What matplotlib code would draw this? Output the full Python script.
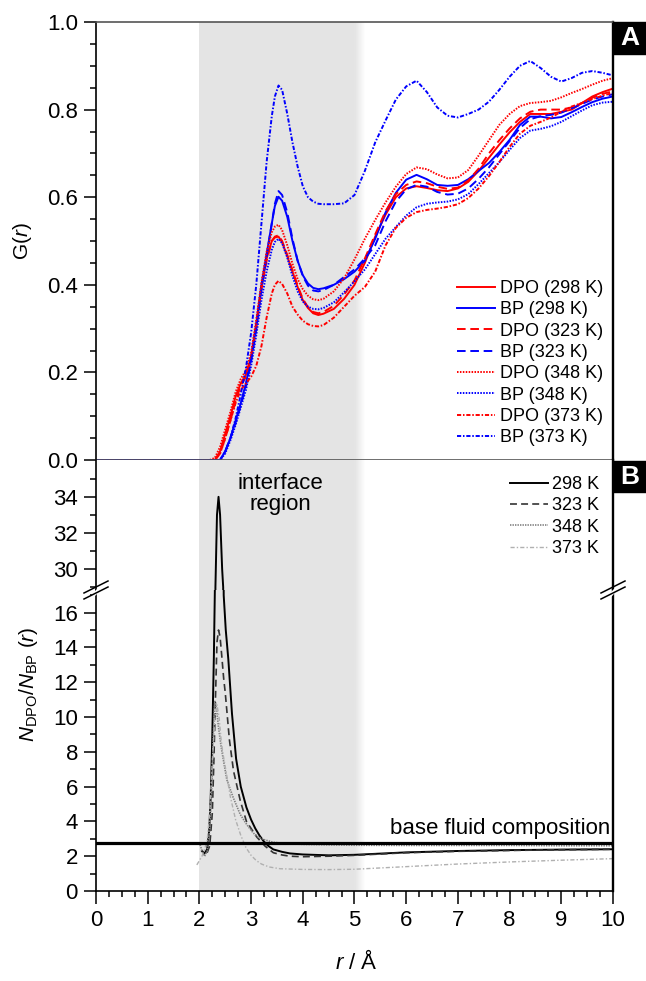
import matplotlib
matplotlib.use('Agg')
import matplotlib.pyplot as plt
from matplotlib.ticker import MultipleLocator, FixedLocator, FormatStrFormatter
from matplotlib.lines import Line2D
from matplotlib.patches import Rectangle, Polygon

plt.rcParams['font.family'] = ['Liberation Sans', 'DejaVu Sans']
plt.rcParams['mathtext.fontset'] = 'custom'
plt.rcParams['mathtext.rm'] = 'Liberation Sans'
plt.rcParams['mathtext.it'] = 'Liberation Sans:italic'
plt.rcParams['mathtext.bf'] = 'Liberation Sans:bold'
plt.rcParams['lines.scale_dashes'] = False

# ---------------- painel A: G(r) ----------------
r_top = [0.0, 2.2, 2.3, 2.4, 2.5, 2.6, 2.7, 2.8, 2.9, 3.0,
         3.1, 3.2, 3.3, 3.4, 3.46, 3.53, 3.6, 3.7, 3.8, 3.9,
         4.0, 4.1, 4.2, 4.3, 4.4, 4.6, 4.8, 5.0, 5.2, 5.4,
         5.6, 5.8, 6.0, 6.2, 6.4, 6.6, 6.8, 7.0, 7.2, 7.4,
         7.6, 7.8, 8.0, 8.2, 8.4, 8.6, 8.8, 9.0, 9.2, 9.4,
         9.6, 9.8, 10.0]

dpo_298 = [0, 0, 0.0, 0.02, 0.06, 0.10, 0.145, 0.175, 0.195, 0.235,
           0.31, 0.395, 0.46, 0.50, 0.508, 0.51, 0.497, 0.465, 0.43, 0.395,
           0.365, 0.347, 0.335, 0.331, 0.334, 0.345, 0.368, 0.40, 0.45, 0.51,
           0.56, 0.60, 0.62, 0.625, 0.621, 0.616, 0.614, 0.62, 0.635, 0.66,
           0.69, 0.72, 0.748, 0.772, 0.79, 0.79, 0.79, 0.795, 0.80, 0.815,
           0.83, 0.84, 0.848]
bp_298 = [0, 0, 0, 0.0, 0.02, 0.05, 0.09, 0.13, 0.175, 0.235,
          0.31, 0.40, 0.47, 0.54, 0.58, 0.601, 0.592, 0.555, 0.50, 0.455,
          0.422, 0.403, 0.393, 0.39, 0.392, 0.40, 0.413, 0.43, 0.455, 0.505,
          0.565, 0.61, 0.64, 0.651, 0.641, 0.628, 0.626, 0.628, 0.641, 0.66,
          0.678, 0.703, 0.731, 0.765, 0.784, 0.784, 0.78, 0.783, 0.794, 0.806,
          0.817, 0.825, 0.83]
dpo_323 = [0, 0, 0.0, 0.015, 0.05, 0.09, 0.135, 0.17, 0.19, 0.23,
           0.30, 0.39, 0.455, 0.50, 0.51, 0.513, 0.50, 0.468, 0.433, 0.398,
           0.368, 0.349, 0.338, 0.335, 0.338, 0.352, 0.378, 0.41, 0.46, 0.515,
           0.568, 0.607, 0.628, 0.636, 0.632, 0.624, 0.619, 0.622, 0.638, 0.665,
           0.70, 0.73, 0.757, 0.78, 0.795, 0.80, 0.80, 0.80, 0.805, 0.815,
           0.827, 0.836, 0.842]
bp_323 = [0, 0, 0, 0.0, 0.02, 0.05, 0.085, 0.125, 0.17, 0.225,
          0.30, 0.39, 0.465, 0.54, 0.585, 0.614, 0.605, 0.565, 0.505, 0.455,
          0.42, 0.398, 0.387, 0.385, 0.388, 0.40, 0.418, 0.435, 0.46, 0.49,
          0.545, 0.59, 0.618, 0.628, 0.624, 0.612, 0.606, 0.608, 0.62, 0.642,
          0.668, 0.698, 0.728, 0.758, 0.778, 0.785, 0.788, 0.793, 0.803, 0.813,
          0.823, 0.83, 0.835]
dpo_348 = [0, 0, 0.005, 0.03, 0.07, 0.11, 0.155, 0.185, 0.205, 0.245,
           0.32, 0.405, 0.475, 0.52, 0.533, 0.537, 0.525, 0.49, 0.448, 0.413,
           0.39, 0.375, 0.367, 0.365, 0.368, 0.385, 0.415, 0.458, 0.505, 0.548,
           0.588, 0.624, 0.653, 0.668, 0.664, 0.652, 0.643, 0.645, 0.662, 0.695,
           0.73, 0.765, 0.79, 0.808, 0.815, 0.817, 0.82, 0.828, 0.838, 0.847,
           0.857, 0.866, 0.872]
bp_348 = [0, 0, 0, 0.0, 0.015, 0.045, 0.08, 0.12, 0.16, 0.215,
          0.285, 0.365, 0.43, 0.48, 0.498, 0.505, 0.495, 0.462, 0.42, 0.385,
          0.362, 0.35, 0.345, 0.344, 0.347, 0.36, 0.383, 0.408, 0.435, 0.47,
          0.505, 0.532, 0.558, 0.577, 0.585, 0.588, 0.59, 0.595, 0.607, 0.63,
          0.655, 0.68, 0.708, 0.735, 0.752, 0.756, 0.762, 0.772, 0.785, 0.798,
          0.81, 0.816, 0.818]
dpo_373 = [0, 0, 0.0, 0.015, 0.05, 0.09, 0.13, 0.16, 0.175, 0.19,
           0.215, 0.26, 0.325, 0.38, 0.40, 0.409, 0.402, 0.38, 0.35, 0.332,
           0.318, 0.31, 0.306, 0.305, 0.308, 0.325, 0.35, 0.375, 0.395, 0.43,
           0.49, 0.53, 0.553, 0.566, 0.571, 0.574, 0.578, 0.584, 0.598, 0.62,
           0.648, 0.68, 0.715, 0.745, 0.763, 0.772, 0.782, 0.795, 0.807, 0.815,
           0.824, 0.832, 0.838]
bp_373 = [0, 0, 0, 0.0, 0.02, 0.05, 0.095, 0.15, 0.21, 0.29,
          0.40, 0.54, 0.68, 0.785, 0.83, 0.855, 0.845, 0.79, 0.725, 0.67,
          0.625, 0.60, 0.59, 0.585, 0.584, 0.584, 0.586, 0.605, 0.66, 0.725,
          0.775, 0.823, 0.853, 0.866, 0.84, 0.805, 0.786, 0.782, 0.79, 0.80,
          0.818, 0.845, 0.875, 0.90, 0.911, 0.895, 0.875, 0.864, 0.872, 0.884,
          0.888, 0.884, 0.878]

# ---------------- painel B: N_DPO/N_BP ----------------
r_298 = [2.05, 2.10, 2.15, 2.19, 2.22, 2.25, 2.28, 2.30, 2.31, 2.34, 2.37, 2.40, 2.44, 2.46,
         2.47, 2.51, 2.56, 2.63, 2.71, 2.80, 2.91, 3.00, 3.08, 3.16, 3.24, 3.33, 3.43,
         3.6, 3.75, 4.0, 4.5, 5.0, 5.5, 6.0, 7.0, 8.0, 9.0, 10.0]
n_298 = [2.3, 2.15, 2.4, 3.5, 5.5, 9.0, 13.5, 17.5, 29.0, 33.0, 34.0, 33.0, 30.0, 29.0,
         17.0, 15.0, 13.3, 10.2, 7.6, 6.0, 4.8, 4.1, 3.6, 3.2, 2.87, 2.6, 2.39,
         2.25, 2.16, 2.1, 2.05, 2.08, 2.15, 2.22, 2.3, 2.35, 2.38, 2.4]

r_323 = [2.15, 2.20, 2.25, 2.28, 2.31, 2.34, 2.37, 2.40, 2.43, 2.47, 2.50, 2.58, 2.66,
         2.79, 2.91, 3.11, 3.27, 3.43, 3.6, 3.75, 4.0, 4.5, 5.0, 6.0, 7.0, 8.0, 9.0, 10.0]
n_323 = [2.2, 2.6, 4.5, 7.5, 11.0, 14.3, 15.0, 14.6, 13.6, 12.2, 11.4, 8.7, 6.9,
         5.2, 4.0, 3.1, 2.58, 2.2, 2.07, 2.0, 1.97, 2.0, 2.05, 2.2, 2.28, 2.33, 2.37, 2.4]

r_348 = [2.0, 2.05, 2.1, 2.15, 2.2, 2.24, 2.27, 2.30, 2.33, 2.37, 2.42, 2.46, 2.53, 2.65,
         2.79, 2.92, 3.04, 3.14, 3.24, 3.43, 3.7, 4.0, 4.5, 5.0, 6.0, 7.0, 8.0, 9.0, 10.0]
n_348 = [2.8, 2.3, 2.0, 2.3, 3.5, 6.0, 9.0, 10.9, 10.5, 9.4, 8.3, 7.6, 6.4, 5.4,
         4.4, 3.8, 3.34, 3.1, 2.96, 2.8, 2.72, 2.68, 2.65, 2.63, 2.62, 2.62, 2.62, 2.6, 2.6]

r_373 = [1.95, 2.05, 2.1, 2.15, 2.2, 2.25, 2.30, 2.34, 2.38, 2.42, 2.45, 2.52, 2.6, 2.7,
         2.8, 2.9, 3.0, 3.1, 3.2, 3.35, 3.56, 4.0, 4.5, 5.0, 6.0, 7.0, 8.0, 9.0, 10.0]
n_373 = [1.5, 2.0, 2.4, 2.9, 4.5, 7.5, 10.0, 10.7, 10.0, 8.7, 8.0, 6.8, 5.4, 4.1,
         3.2, 2.5, 2.05, 1.75, 1.55, 1.38, 1.28, 1.24, 1.23, 1.25, 1.4, 1.55, 1.67, 1.77, 1.86]

base_fluid = 2.77

# ---------------- figura ----------------
W, H = 646, 981
fig = plt.figure(figsize=(W / 100, H / 100), dpi=100)


def fx(px):
    return px / W


def fy(py):
    return 1 - py / H


L, R = 96, 613
YB = 590  # posição da quebra
axA = fig.add_axes([fx(L), fy(460), fx(R) - fx(L), fy(22) - fy(460)])
axB1 = fig.add_axes([fx(L), fy(YB), fx(R) - fx(L), fy(460) - fy(YB)])
axB2 = fig.add_axes([fx(L), fy(891), fx(R) - fx(L), fy(YB) - fy(891)])

shade = '#e4e4e4'
for ax in (axA, axB1, axB2):
    ax.axvspan(2.0, 5.0, color=shade, lw=0, zorder=0)
    for i in range(10):
        ax.axvspan(5.0 + i * 0.02, 5.0 + (i + 1) * 0.02, color=shade,
                   alpha=1 - (i + 0.5) / 10, lw=0, zorder=0)
    ax.set_xlim(0, 10)

dash = (0, (6.2, 3.4))
dot = (0, (1.1, 1.0))
dashdot = (0, (3.0, 1.3, 1.1, 1.3))

red, blue = '#ff0000', '#0000ff'
series = [
    (dpo_298, red, '-', 'DPO (298 K)'),
    (bp_298, blue, '-', 'BP (298 K)'),
    (dpo_323, red, dash, 'DPO (323 K)'),
    (bp_323, blue, dash, 'BP (323 K)'),
    (dpo_348, red, dot, 'DPO (348 K)'),
    (bp_348, blue, dot, 'BP (348 K)'),
    (dpo_373, red, dashdot, 'DPO (373 K)'),
    (bp_373, blue, dashdot, 'BP (373 K)'),
]
for vals, c, ls, lab in series:
    axA.plot(r_top, vals, color=c, ls=ls, lw=1.4, label=lab, zorder=2)

axA.set_ylim(0, 1.0)
axA.yaxis.set_major_locator(MultipleLocator(0.2))
axA.yaxis.set_minor_locator(MultipleLocator(0.05))
axA.yaxis.set_major_formatter(FormatStrFormatter('%.1f'))
axA.legend(loc='upper left', bbox_to_anchor=(fx(457), fy(280)), bbox_transform=fig.transFigure,
           frameon=False, fontsize=13, handlelength=2.1, handletextpad=0.3,
           labelspacing=0.24, borderpad=0, borderaxespad=0)

# painel B (eixo quebrado)
bseries = [
    (r_298, n_298, 'black', '-', 1.4, '298 K'),
    (r_323, n_323, '#333333', (0, (5.0, 3.0)), 1.2, '323 K'),
    (r_348, n_348, '#808080', (0, (1.0, 0.8)), 1.2, '348 K'),
    (r_373, n_373, '#b0b0b0', (0, (3.0, 1.5, 1.0, 1.5)), 1.0, '373 K'),
]
handles = []
for xs, ys, c, ls, lw, lab in bseries:
    axB1.plot(xs, ys, color=c, ls=ls, lw=lw, zorder=2)
    h, = axB2.plot(xs, ys, color=c, ls=ls, lw=lw, zorder=2, label=lab)
    handles.append(h)
axB2.axhline(base_fluid, color='black', lw=2.3, zorder=3)

axB1.set_ylim(28.84, 36.04)
axB1.yaxis.set_major_locator(FixedLocator([30, 32, 34]))
axB1.yaxis.set_minor_locator(FixedLocator([29, 31, 33, 35]))
axB2.set_ylim(0, 17.3)
axB2.yaxis.set_major_locator(MultipleLocator(2))
axB2.yaxis.set_minor_locator(MultipleLocator(1))

axB1.legend(handles=handles, loc='upper left', bbox_to_anchor=(fx(510), fy(476)),
            bbox_transform=fig.transFigure, frameon=False, fontsize=13,
            handlelength=2.1, handletextpad=0.25, labelspacing=0.24,
            borderpad=0, borderaxespad=0)

axB1.text(3.56, 34.15, 'interface\nregion', ha='center', va='center',
          fontsize=16, linespacing=1.0)
axB2.text(9.95, 3.0, 'base fluid composition', ha='right', va='bottom', fontsize=16)

# eixos, spines e ticks
for ax in (axA, axB1, axB2):
    for s in ax.spines.values():
        s.set_linewidth(1.2)
        s.set_color('black')
    ax.spines['right'].set_linewidth(1.7)
    ax.tick_params(axis='y', which='both', direction='out', left=True, right=False,
                   labelsize=16, width=1.1, pad=4)
    ax.tick_params(axis='y', which='major', length=9)
    ax.tick_params(axis='y', which='minor', length=4.5)
    ax.tick_params(axis='x', which='both', bottom=False, top=False, labelbottom=False)

axA.spines['top'].set_color('#555555')
axA.spines['bottom'].set_color('#555555')
axB1.spines['top'].set_visible(False)
axB1.spines['bottom'].set_visible(False)
axB2.spines['top'].set_visible(False)

axB2.xaxis.set_major_locator(MultipleLocator(1))
axB2.xaxis.set_minor_locator(MultipleLocator(0.25))
axB2.tick_params(axis='x', which='both', bottom=True, labelbottom=True, direction='out',
                 labelsize=16, width=1.1, pad=5)
axB2.tick_params(axis='x', which='major', length=9)
axB2.tick_params(axis='x', which='minor', length=4.5)

# marcas de quebra
for sx in (L, R):
    fig.add_artist(Polygon([(fx(sx - 5), fy(YB + 3 + 2.5)), (fx(sx + 5), fy(YB - 3 - 2.5)),
                            (fx(sx + 5), fy(YB - 3 + 2.5)), (fx(sx - 5), fy(YB + 3 + 2.5 + 5))],
                           closed=True, color='white', lw=0, transform=fig.transFigure))
    for cy in (YB - 3, YB + 3):
        fig.add_artist(Line2D([fx(sx - 12), fx(sx + 12)], [fy(cy + 6), fy(cy - 6)],
                              color='black', lw=1.1, transform=fig.transFigure))

# rótulos
fig.text(fx(22), fy(241), r'$\mathrm{G(}\mathit{r}\mathrm{)}$', rotation=90,
         ha='center', va='center', fontsize=15)
fig.text(fx(28), fy(684), r'$\mathit{N}_{\mathrm{DPO}}/\mathit{N}_{\mathrm{BP}}\ (\mathit{r})$',
         rotation=90, ha='center', va='center', fontsize=15)
fig.text(fx(356), fy(962), r'$\mathit{r}$ / Å', ha='center', va='center', fontsize=16)

# caixas A e B
for lab, y0, y1 in (('A', 22, 54), ('B', 461, 492)):
    fig.add_artist(Rectangle((fx(R), fy(y1)), fx(W) - fx(R), fy(y0) - fy(y1),
                             color='black', transform=fig.transFigure))
    fig.text(fx((R + W) / 2), fy((y0 + y1) / 2), lab, color='white', fontsize=19,
             fontweight='bold', ha='center', va='center')

fig.savefig('out.png', dpi=100)
